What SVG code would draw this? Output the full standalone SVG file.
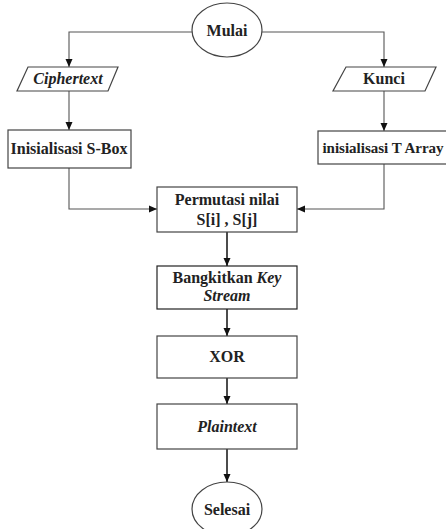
<svg xmlns="http://www.w3.org/2000/svg" width="446" height="529" viewBox="0 0 446 529">
  <defs>
    <marker id="arrow" viewBox="0 0 8 8" refX="8" refY="4" markerWidth="8" markerHeight="8" markerUnits="userSpaceOnUse" orient="auto">
      <path d="M0,0.5 L8,4 L0,7.5 Z" fill="#111"/>
    </marker>
    <style>
      .shape { fill: #fff; stroke: #444; stroke-width: 1.2; }
      .label { font-family: "Liberation Serif", "Times New Roman", serif; font-weight: bold; font-size: 16px; fill: #222; text-anchor: middle; }
      .it { font-style: italic; }
      .conn { fill: none; stroke: #555; stroke-width: 1.1; }
      .conn-dark { fill: none; stroke: #111; stroke-width: 1.5; }
    </style>
  </defs>
  <rect width="446" height="529" fill="#fff"/>

  <!-- connectors -->
  <g id="connectors">
    <path class="conn" d="M192,32 H69 V67" marker-end="url(#arrow)"/>
    <path class="conn" d="M262,32 H384 V67" marker-end="url(#arrow)"/>
    <path class="conn" d="M69,91 V130" marker-end="url(#arrow)"/>
    <path class="conn" d="M384,91 V131" marker-end="url(#arrow)"/>
    <path class="conn" d="M69,168 V209 H157" marker-end="url(#arrow)"/>
    <path class="conn" d="M384,164 V209 H297" marker-end="url(#arrow)"/>
    <path class="conn-dark" d="M227,232 V266" marker-end="url(#arrow)"/>
    <path class="conn-dark" d="M227,309 V336" marker-end="url(#arrow)"/>
    <path class="conn-dark" d="M227,378 V404" marker-end="url(#arrow)"/>
    <path class="conn-dark" d="M227,449 V482" marker-end="url(#arrow)"/>
  </g>

  <g id="mulai">
    <ellipse class="shape" cx="227" cy="30" rx="35" ry="27"/>
    <text class="label" x="227" y="36">Mulai</text>
  </g>

  <g id="ciphertext">
    <polygon class="shape" points="28,67 118,67 108,91 17,91"/>
    <text class="label it" x="68" y="84">Ciphertext</text>
  </g>

  <g id="kunci">
    <polygon class="shape" points="346,67 436,67 425,91 333,91"/>
    <text class="label" x="384" y="84">Kunci</text>
  </g>

  <g id="sbox">
    <rect class="shape" x="8" y="130" width="123" height="38"/>
    <text class="label" x="69" y="154">Inisialisasi S-Box</text>
  </g>

  <g id="tarray">
    <rect class="shape" x="318" y="131" width="134" height="33"/>
    <text class="label" x="383" y="153" style="font-size:15px">inisialisasi T Array</text>
  </g>

  <g id="permutasi">
    <rect class="shape" x="157" y="187" width="140" height="45"/>
    <text class="label" x="227" y="205">Permutasi nilai</text>
    <text class="label" x="227" y="225">S[i] , S[j]</text>
  </g>

  <g id="keystream">
    <rect class="shape" x="157" y="266" width="140" height="43" style="stroke:#222"/>
    <text class="label" x="227" y="283">Bangkitkan <tspan class="it">Key</tspan></text>
    <text class="label it" x="227" y="301">Stream</text>
  </g>

  <g id="xor">
    <rect class="shape" x="157" y="336" width="140" height="42"/>
    <text class="label" x="227" y="362">XOR</text>
  </g>

  <g id="plaintext">
    <rect class="shape" x="157" y="404" width="140" height="45"/>
    <text class="label it" x="227" y="432">Plaintext</text>
  </g>

  <g id="selesai">
    <ellipse class="shape" cx="227" cy="509" rx="35" ry="27"/>
    <text class="label" x="227" y="515">Selesai</text>
  </g>
</svg>
